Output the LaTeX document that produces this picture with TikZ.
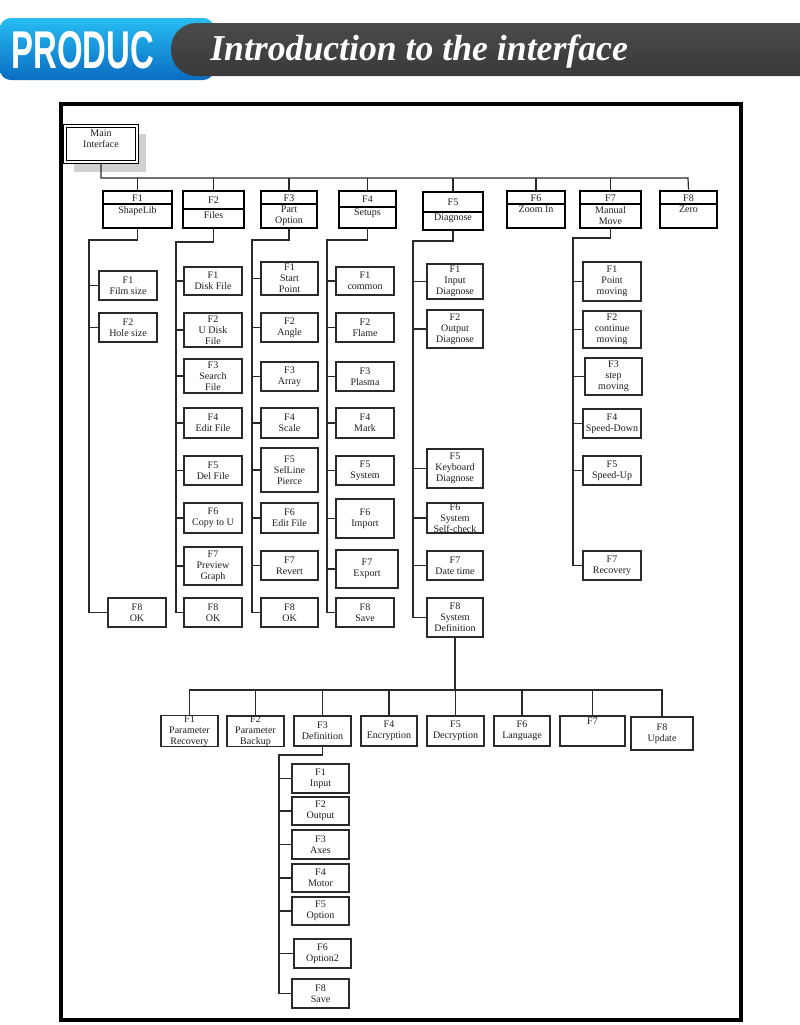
\documentclass[tikz,border=0pt]{standalone}
\usepackage{fontspec}
\setmainfont{Liberation Serif}
\setsansfont{Liberation Sans}
\usepackage{graphicx}
\definecolor{ln}{HTML}{2A2A2A}
\definecolor{txt}{HTML}{1E1E1E}
\definecolor{blueT}{HTML}{27BDF2}
\definecolor{blueB}{HTML}{0A6CC2}
\definecolor{barT}{HTML}{4A4A4A}
\definecolor{barM}{HTML}{262626}
\definecolor{barB}{HTML}{3A3A3A}
\tikzset{
  cbox/.style={draw=ln, line width=1pt, fill=white, inner sep=0pt, align=center,
    font=\fontsize{7.5}{8.1}\selectfont, text=txt},
  tbox/.style={draw=black, line width=2.2pt, fill=white, inner sep=0pt},
  conn/.style={draw=ln, line width=1.1pt},
  ttxt/.style={inner sep=0pt, align=center, font=\fontsize{7.5}{8.1}\selectfont, text=txt},
}
\newcommand\cbox[6]{\node[cbox, minimum width={(#4-#2)*0.75pt}, minimum height={(#5-#3)*0.75pt}] (#1) at ({(#2+#4)/2},{(#3+#5)/2}) {#6};}
\newcommand\tbox[8]{%
  \node[tbox, minimum width={(#4-#2)*0.75pt}, minimum height={(#5-#3)*0.75pt}] (#1) at ({(#2+#4)/2},{(#3+#5)/2}) {};
  \draw[line width=0.9pt] (#2,#6) -- (#4,#6);
  \node[ttxt] (#1a) at ({(#2+#4)/2},{(#3+#6)/2+0.5}) {#7};
  \node[ttxt, anchor=north] (#1b) at ({(#2+#4)/2},{#6+2}) {#8};}
\begin{document}
\begin{tikzpicture}[x=0.75pt,y=-0.75pt]
\useasboundingbox (0,0) rectangle (800,1025);
% header
\shade[top color=blueT, bottom color=blueB, rounded corners=8pt] (0,18) rectangle (214,80);
\shade[top color=barT, middle color=barM, bottom color=barB, rounded corners=19pt] (171,23) rectangle (830,76);
\node[anchor=base west, inner sep=0pt, text=white, font=\sffamily\bfseries\fontsize{38}{40}\selectfont] (prod) at (11,68) {\scalebox{0.65}[1.05]{PRODUC}};
\node[anchor=base west, inner sep=0pt, text=white, font=\bfseries\itshape\fontsize{26}{30}\selectfont] (intro) at (210,60) {\scalebox{1.03}[1.05]{Introduction to the interface}};
% frame
\draw[line width=3pt] (61,104) rectangle (741,1020);
% main
\fill[black!18] (74,134) rectangle (146,172);
\node[draw=black, double, double distance=1.1pt, line width=0.9pt, fill=white, minimum width={72*0.75pt}, minimum height={36*0.75pt}] (main) at (101,144) {};
\node[ttxt] (maintxt) at (101,139) {Main\\Interface};
% top boxes
\tbox{t1}{103}{191}{172}{228}{204}{F1}{ShapeLib}
\tbox{t2}{183}{191}{244}{228}{209}{F2}{Files}
\tbox{t3}{261}{191}{317}{228}{204}{F3}{Part\\Option}
\tbox{t4}{339}{191}{396}{228}{207}{F4}{Setups}
\tbox{t5}{423}{192}{483}{230}{212}{F5}{Diagnose}
\tbox{t6}{507}{191}{565}{228}{204}{F6}{Zoom In}
\tbox{t7}{580}{191}{641}{228}{204}{F7}{Manual\\Move}
\tbox{t8}{660}{191}{717}{228}{204}{F8}{Zero}
\coordinate (bus) at (688,178);
\draw[conn, line width=0.9pt] (main.south) |- (bus) -- (t8.north);
\foreach \t in {t1,t2,t3,t4,t5,t6,t7} {\draw[conn, line width=0.9pt] (\t.north |- bus) -- (\t.north);}
% column 1
\cbox{c11}{99}{271}{157}{300}{F1\\Film size}
\cbox{c12}{99}{313}{157}{342}{F2\\Hole size}
\cbox{c18}{108}{598}{166}{627}{F8\\OK}
% column 2
\cbox{c21}{184}{267}{242}{295}{F1\\Disk File}
\cbox{c22}{184}{313}{242}{347}{F2\\U Disk\\File}
\cbox{c23}{184}{359}{242}{393}{F3\\Search\\File}
\cbox{c24}{184}{408}{242}{438}{F4\\Edit File}
\cbox{c25}{184}{456}{242}{485}{F5\\Del File}
\cbox{c26}{184}{503}{242}{533}{F6\\Copy to U}
\cbox{c27}{184}{547}{242}{585}{F7\\Preview\\Graph}
\cbox{c28}{184}{598}{242}{627}{F8\\OK}
% column 3
\cbox{c31}{261}{262}{318}{295}{F1\\Start\\Point}
\cbox{c32}{261}{313}{318}{342}{F2\\Angle}
\cbox{c33}{261}{362}{318}{391}{F3\\Array}
\cbox{c34}{261}{408}{318}{438}{F4\\Scale}
\cbox{c35}{261}{448}{318}{492}{F5\\SelLine\\Pierce}
\cbox{c36}{261}{503}{318}{533}{F6\\Edit File}
\cbox{c37}{261}{551}{318}{580}{F7\\Revert}
\cbox{c38}{261}{598}{318}{627}{F8\\OK}
% column 4
\cbox{c41}{336}{267}{394}{295}{F1\\common}
\cbox{c42}{336}{313}{394}{342}{F2\\Flame}
\cbox{c43}{336}{362}{394}{391}{F3\\Plasma}
\cbox{c44}{336}{408}{394}{438}{F4\\Mark}
\cbox{c45}{336}{456}{394}{485}{F5\\System}
\cbox{c46}{336}{499}{394}{538}{F6\\Import}
\cbox{c47}{336}{550}{398}{588}{F7\\Export}
\cbox{c48}{336}{598}{394}{627}{F8\\Save}
% column 5
\cbox{c51}{427}{264}{483}{299}{F1\\Input\\Diagnose}
\cbox{c52}{427}{310}{483}{348}{F2\\Output\\Diagnose}
\cbox{c55}{427}{449}{483}{488}{F5\\Keyboard\\Diagnose}
\cbox{c56}{427}{503}{483}{533}{F6\\System\\Self-check}
\cbox{c57}{427}{551}{483}{580}{F7\\Date time}
\cbox{c58}{427}{598}{483}{637}{F8\\System\\Definition}
% column 7
\cbox{c71}{583}{262}{641}{301}{F1\\Point\\moving}
\cbox{c72}{583}{311}{641}{348}{F2\\continue\\moving}
\cbox{c73}{585}{358}{642}{395}{F3\\step\\moving}
\cbox{c74}{583}{409}{641}{438}{F4\\Speed-Down}
\cbox{c75}{583}{456}{641}{485}{F5\\Speed-Up}
\cbox{c77}{583}{551}{641}{580}{F7\\Recovery}
% column connectors
\coordinate (b1) at (89,240);
\draw[conn] (t1.south) |- (b1) |- (c18.west);
\foreach \c in {c11,c12} {\draw[conn] (b1 |- \c.west) -- (\c.west);}
\coordinate (b2) at (176,242);
\draw[conn] (t2.south) |- (b2) |- (c28.west);
\foreach \c in {c21,c22,c23,c24,c25,c26,c27} {\draw[conn] (b2 |- \c.west) -- (\c.west);}
\coordinate (b3) at (252,240);
\draw[conn] (t3.south) |- (b3) |- (c38.west);
\foreach \c in {c31,c32,c33,c34,c35,c36,c37} {\draw[conn] (b3 |- \c.west) -- (\c.west);}
\coordinate (b4) at (327,240);
\draw[conn] (t4.south) |- (b4) |- (c48.west);
\foreach \c in {c41,c42,c43,c44,c45,c46,c47} {\draw[conn] (b4 |- \c.west) -- (\c.west);}
\coordinate (b5) at (413,241);
\draw[conn] (t5.south) |- (b5) |- (c58.west);
\foreach \c in {c51,c52,c55,c56,c57} {\draw[conn] (b5 |- \c.west) -- (\c.west);}
\coordinate (b7) at (573,238);
\draw[conn] (t7.south) |- (b7) |- (c77.west);
\foreach \c in {c71,c72,c73,c74,c75} {\draw[conn] (b7 |- \c.west) -- (\c.west);}
% bottom row
\cbox{d1}{161}{716}{218}{746}{F1\\Parameter\\Recovery}
\cbox{d2}{227}{716}{284}{746}{F2\\Parameter\\Backup}
\cbox{d3}{294}{716}{351}{746}{F3\\Definition}
\cbox{d4}{361}{716}{417}{746}{F4\\Encryption}
\cbox{d5}{427}{716}{484}{746}{F5\\Decryption}
\cbox{d6}{494}{716}{550}{746}{F6\\Language}
\cbox{d7}{560}{716}{625}{746}{F7\\[4pt]\strut}
\cbox{d8}{631}{717}{693}{750}{F8\\Update}
\coordinate (bus2) at (662,690);
\draw[conn] (d1.north) |- (bus2) -- (d8.north);
\draw[conn] (c58.south) -- (c58.south |- bus2);
\foreach \d in {d2,d3,d4,d5,d6,d7} {\draw[conn] (\d.north |- bus2) -- (\d.north);}
% definition subtree
\cbox{e1}{292}{764}{349}{793}{F1\\Input}
\cbox{e2}{292}{797}{349}{825}{F2\\Output}
\cbox{e3}{292}{830}{349}{859}{F3\\Axes}
\cbox{e4}{292}{864}{349}{892}{F4\\Motor}
\cbox{e5}{292}{897}{349}{925}{F5\\Option}
\cbox{e6}{294}{939}{351}{968}{F6\\Option2}
\cbox{e8}{292}{979}{349}{1008}{F8\\Save}
\coordinate (b8) at (279,755);
\draw[conn] (d3.south) |- (b8) |- (e8.west);
\foreach \e in {e1,e2,e3,e4,e5,e6} {\draw[conn] (b8 |- \e.west) -- (\e.west);}
\end{tikzpicture}
\end{document}
